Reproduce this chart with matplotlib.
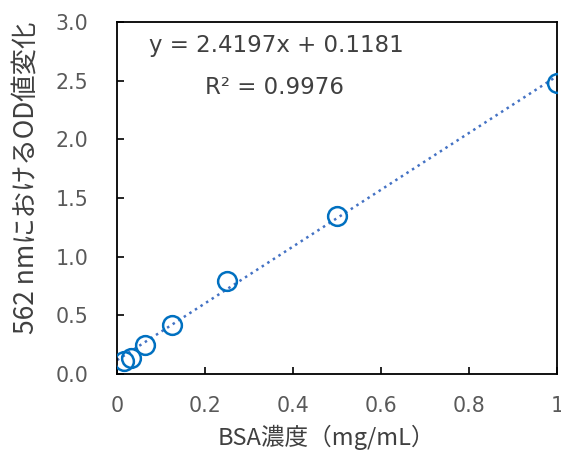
import numpy as np
import matplotlib
matplotlib.use('Agg')
import matplotlib.pyplot as plt

plt.rcParams['font.family'] = ['DejaVu Sans', 'Noto Sans CJK JP']

# ====================================================================
# Data
# ====================================================================
bsa_conc = [0.015625, 0.03125, 0.0625, 0.125, 0.25, 0.5, 1.0]   # mg/mL
od_change = [0.11, 0.14, 0.25, 0.42, 0.79, 1.35, 2.48]

# Linear trendline as printed on the chart
slope = 2.4197
intercept = 0.1181
r2 = 0.9976

x_ticks = [0, 0.2, 0.4, 0.6, 0.8, 1.0]
x_ticklabels = ['0', '0.2', '0.4', '0.6', '0.8', '1']
y_ticks = [0.0, 0.5, 1.0, 1.5, 2.0, 2.5, 3.0]

MARKER_COLOR = '#0070C0'
LINE_COLOR = '#4472C4'
TEXT_COLOR = '#404040'
TICK_COLOR = '#595959'
CJK = ['Noto Sans CJK JP', 'DejaVu Sans']

# ====================================================================
# Plot
# ====================================================================
fig = plt.figure(figsize=(5.61, 4.53), dpi=100)
ax = fig.add_axes([0.2086, 0.1744, 0.784, 0.777])

xfit = np.array([0.0, 1.0])
ax.plot(xfit, slope * xfit + intercept, linestyle=':', color=LINE_COLOR,
        linewidth=1.8, zorder=2)
ax.plot(bsa_conc, od_change, 'o', markersize=13.5, markerfacecolor='none',
        markeredgecolor=MARKER_COLOR, markeredgewidth=1.8, zorder=3)

ax.set_xlim(0, 1)
ax.set_ylim(0, 3)
ax.set_xticks(x_ticks)
ax.set_xticklabels(x_ticklabels)
ax.set_yticks(y_ticks)
ax.set_yticklabels([f'{v:.1f}' for v in y_ticks])

ax.tick_params(direction='in', length=5, width=1.2, color='black',
               labelsize=14.8, labelcolor=TICK_COLOR)
ax.tick_params(axis='y', pad=20.5)
ax.tick_params(axis='x', pad=15.5)
for s in ax.spines.values():
    s.set_linewidth(1.3)
    s.set_color('black')

# trendline equation and R²
ax.text(0.3625, 0.915, f'y = {slope}x + {intercept}', transform=ax.transAxes,
        ha='center', va='baseline', fontsize=16.5, color=TEXT_COLOR)
ax.text(0.359, 0.795, f'R² = {r2}', transform=ax.transAxes,
        ha='center', va='baseline', fontsize=16.5, color=TEXT_COLOR)

# axis titles
fig.text(0.581, 0.0353, 'BSA濃度（mg/mL）', ha='center', va='center',
         fontsize=17, color=TEXT_COLOR, family=CJK)
fig.text(0.0463, 0.607, '562 nmにおけるOD値変化', ha='center', va='center',
         rotation=90, fontsize=19, color=TEXT_COLOR, family=CJK)

fig.savefig('out.png', dpi=100)
